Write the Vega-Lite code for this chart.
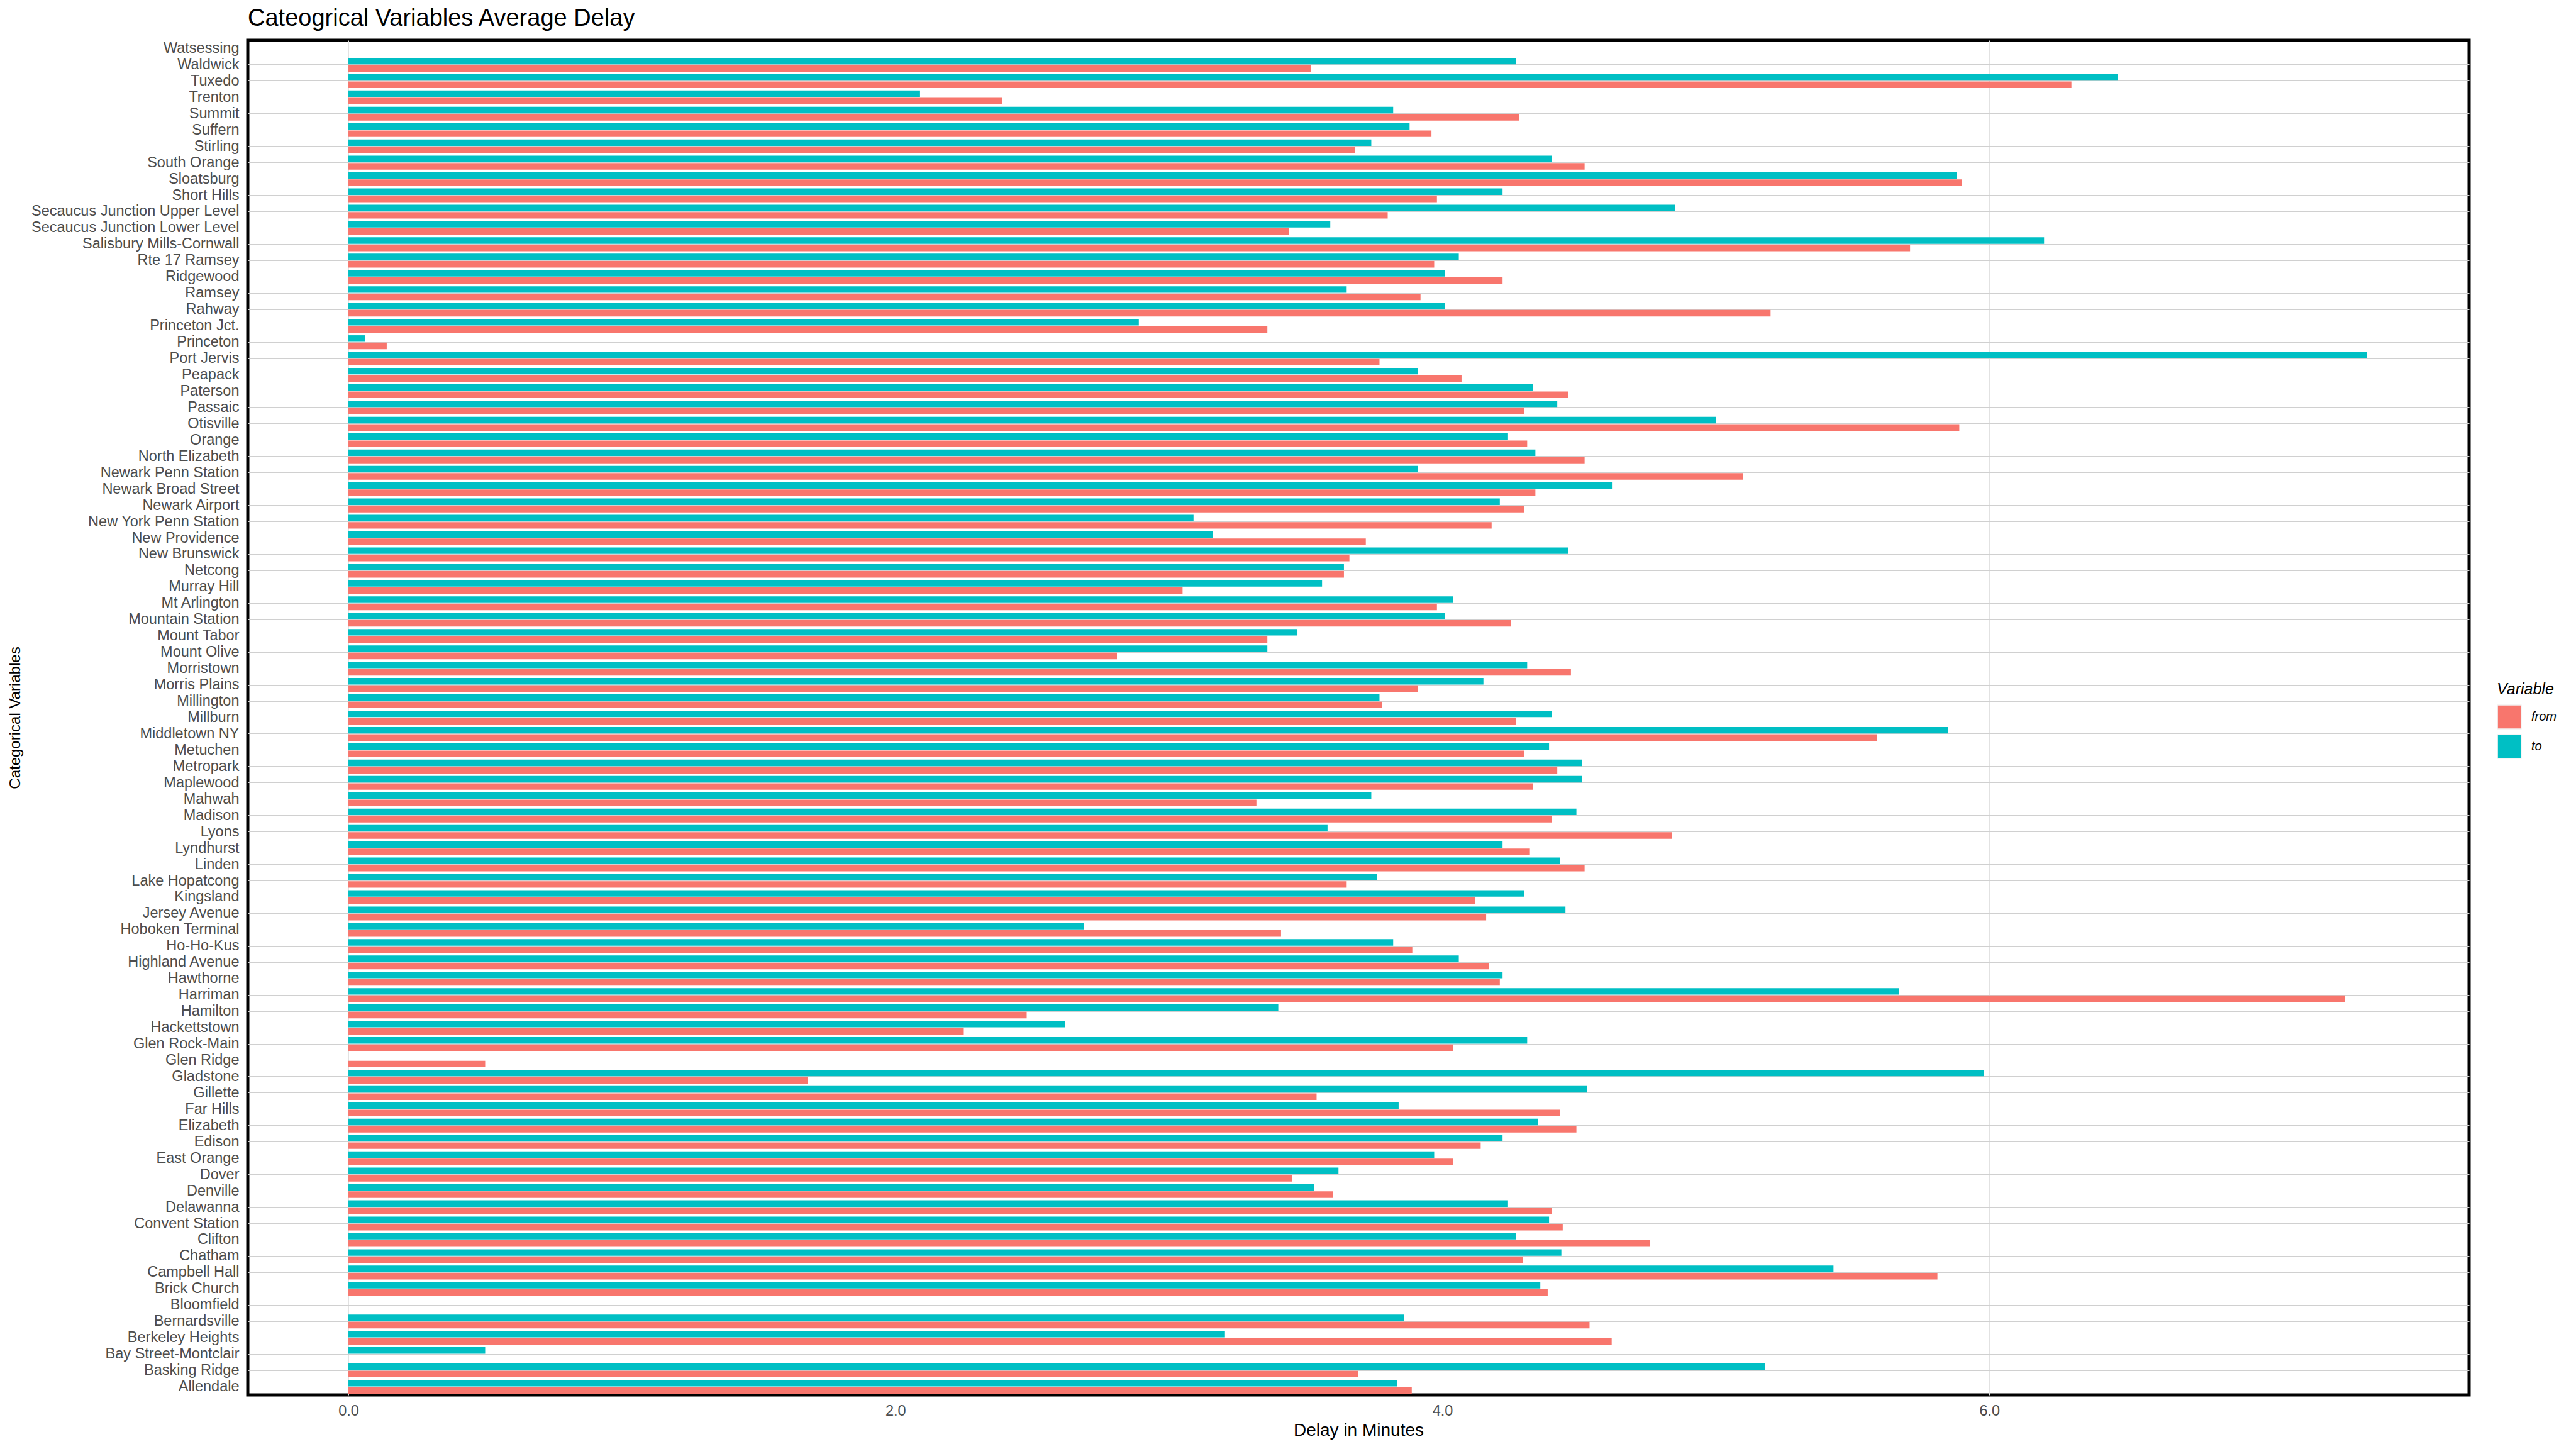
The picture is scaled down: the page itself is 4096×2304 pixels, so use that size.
{
  "$schema": "https://vega.github.io/schema/vega-lite/v6.json",
  "width": 3532,
  "height": 2154,
  "autosize": {"type": "none"},
  "padding": {"left": 394, "top": 64, "right": 170, "bottom": 86},
  "background": "white",
  "title": {"text": "Cateogrical Variables Average Delay", "anchor": "start", "frame": "group", "font": "Liberation Sans", "fontSize": 38, "fontWeight": "normal", "color": "black", "baseline": "top", "offset": 15},
  "config": {
    "view": {"stroke": "black", "strokeWidth": 5},
    "font": "Liberation Sans"
  },
  "data": {"values": [
    {"station": "Waldwick", "variable": "to", "delay": 4.27}, {"station": "Waldwick", "variable": "from", "delay": 3.52},
    {"station": "Tuxedo", "variable": "to", "delay": 6.47}, {"station": "Tuxedo", "variable": "from", "delay": 6.30},
    {"station": "Trenton", "variable": "to", "delay": 2.09}, {"station": "Trenton", "variable": "from", "delay": 2.39},
    {"station": "Summit", "variable": "to", "delay": 3.82}, {"station": "Summit", "variable": "from", "delay": 4.28},
    {"station": "Suffern", "variable": "to", "delay": 3.88}, {"station": "Suffern", "variable": "from", "delay": 3.96},
    {"station": "Stirling", "variable": "to", "delay": 3.74}, {"station": "Stirling", "variable": "from", "delay": 3.68},
    {"station": "South Orange", "variable": "to", "delay": 4.40}, {"station": "South Orange", "variable": "from", "delay": 4.52},
    {"station": "Sloatsburg", "variable": "to", "delay": 5.88}, {"station": "Sloatsburg", "variable": "from", "delay": 5.90},
    {"station": "Short Hills", "variable": "to", "delay": 4.22}, {"station": "Short Hills", "variable": "from", "delay": 3.98},
    {"station": "Secaucus Junction Upper Level", "variable": "to", "delay": 4.85}, {"station": "Secaucus Junction Upper Level", "variable": "from", "delay": 3.80},
    {"station": "Secaucus Junction Lower Level", "variable": "to", "delay": 3.59}, {"station": "Secaucus Junction Lower Level", "variable": "from", "delay": 3.44},
    {"station": "Salisbury Mills-Cornwall", "variable": "to", "delay": 6.20}, {"station": "Salisbury Mills-Cornwall", "variable": "from", "delay": 5.71},
    {"station": "Rte 17 Ramsey", "variable": "to", "delay": 4.06}, {"station": "Rte 17 Ramsey", "variable": "from", "delay": 3.97},
    {"station": "Ridgewood", "variable": "to", "delay": 4.01}, {"station": "Ridgewood", "variable": "from", "delay": 4.22},
    {"station": "Ramsey", "variable": "to", "delay": 3.65}, {"station": "Ramsey", "variable": "from", "delay": 3.92},
    {"station": "Rahway", "variable": "to", "delay": 4.01}, {"station": "Rahway", "variable": "from", "delay": 5.20},
    {"station": "Princeton Jct.", "variable": "to", "delay": 2.89}, {"station": "Princeton Jct.", "variable": "from", "delay": 3.36},
    {"station": "Princeton", "variable": "to", "delay": 0.06}, {"station": "Princeton", "variable": "from", "delay": 0.14},
    {"station": "Port Jervis", "variable": "to", "delay": 7.38}, {"station": "Port Jervis", "variable": "from", "delay": 3.77},
    {"station": "Peapack", "variable": "to", "delay": 3.91}, {"station": "Peapack", "variable": "from", "delay": 4.07},
    {"station": "Paterson", "variable": "to", "delay": 4.33}, {"station": "Paterson", "variable": "from", "delay": 4.46},
    {"station": "Passaic", "variable": "to", "delay": 4.42}, {"station": "Passaic", "variable": "from", "delay": 4.30},
    {"station": "Otisville", "variable": "to", "delay": 5.00}, {"station": "Otisville", "variable": "from", "delay": 5.89},
    {"station": "Orange", "variable": "to", "delay": 4.24}, {"station": "Orange", "variable": "from", "delay": 4.31},
    {"station": "North Elizabeth", "variable": "to", "delay": 4.34}, {"station": "North Elizabeth", "variable": "from", "delay": 4.52},
    {"station": "Newark Penn Station", "variable": "to", "delay": 3.91}, {"station": "Newark Penn Station", "variable": "from", "delay": 5.10},
    {"station": "Newark Broad Street", "variable": "to", "delay": 4.62}, {"station": "Newark Broad Street", "variable": "from", "delay": 4.34},
    {"station": "Newark Airport", "variable": "to", "delay": 4.21}, {"station": "Newark Airport", "variable": "from", "delay": 4.30},
    {"station": "New York Penn Station", "variable": "to", "delay": 3.09}, {"station": "New York Penn Station", "variable": "from", "delay": 4.18},
    {"station": "New Providence", "variable": "to", "delay": 3.16}, {"station": "New Providence", "variable": "from", "delay": 3.72},
    {"station": "New Brunswick", "variable": "to", "delay": 4.46}, {"station": "New Brunswick", "variable": "from", "delay": 3.66},
    {"station": "Netcong", "variable": "to", "delay": 3.64}, {"station": "Netcong", "variable": "from", "delay": 3.64},
    {"station": "Murray Hill", "variable": "to", "delay": 3.56}, {"station": "Murray Hill", "variable": "from", "delay": 3.05},
    {"station": "Mt Arlington", "variable": "to", "delay": 4.04}, {"station": "Mt Arlington", "variable": "from", "delay": 3.98},
    {"station": "Mountain Station", "variable": "to", "delay": 4.01}, {"station": "Mountain Station", "variable": "from", "delay": 4.25},
    {"station": "Mount Tabor", "variable": "to", "delay": 3.47}, {"station": "Mount Tabor", "variable": "from", "delay": 3.36},
    {"station": "Mount Olive", "variable": "to", "delay": 3.36}, {"station": "Mount Olive", "variable": "from", "delay": 2.81},
    {"station": "Morristown", "variable": "to", "delay": 4.31}, {"station": "Morristown", "variable": "from", "delay": 4.47},
    {"station": "Morris Plains", "variable": "to", "delay": 4.15}, {"station": "Morris Plains", "variable": "from", "delay": 3.91},
    {"station": "Millington", "variable": "to", "delay": 3.77}, {"station": "Millington", "variable": "from", "delay": 3.78},
    {"station": "Millburn", "variable": "to", "delay": 4.40}, {"station": "Millburn", "variable": "from", "delay": 4.27},
    {"station": "Middletown NY", "variable": "to", "delay": 5.85}, {"station": "Middletown NY", "variable": "from", "delay": 5.59},
    {"station": "Metuchen", "variable": "to", "delay": 4.39}, {"station": "Metuchen", "variable": "from", "delay": 4.30},
    {"station": "Metropark", "variable": "to", "delay": 4.51}, {"station": "Metropark", "variable": "from", "delay": 4.42},
    {"station": "Maplewood", "variable": "to", "delay": 4.51}, {"station": "Maplewood", "variable": "from", "delay": 4.33},
    {"station": "Mahwah", "variable": "to", "delay": 3.74}, {"station": "Mahwah", "variable": "from", "delay": 3.32},
    {"station": "Madison", "variable": "to", "delay": 4.49}, {"station": "Madison", "variable": "from", "delay": 4.40},
    {"station": "Lyons", "variable": "to", "delay": 3.58}, {"station": "Lyons", "variable": "from", "delay": 4.84},
    {"station": "Lyndhurst", "variable": "to", "delay": 4.22}, {"station": "Lyndhurst", "variable": "from", "delay": 4.32},
    {"station": "Linden", "variable": "to", "delay": 4.43}, {"station": "Linden", "variable": "from", "delay": 4.52},
    {"station": "Lake Hopatcong", "variable": "to", "delay": 3.76}, {"station": "Lake Hopatcong", "variable": "from", "delay": 3.65},
    {"station": "Kingsland", "variable": "to", "delay": 4.30}, {"station": "Kingsland", "variable": "from", "delay": 4.12},
    {"station": "Jersey Avenue", "variable": "to", "delay": 4.45}, {"station": "Jersey Avenue", "variable": "from", "delay": 4.16},
    {"station": "Hoboken Terminal", "variable": "to", "delay": 2.69}, {"station": "Hoboken Terminal", "variable": "from", "delay": 3.41},
    {"station": "Ho-Ho-Kus", "variable": "to", "delay": 3.82}, {"station": "Ho-Ho-Kus", "variable": "from", "delay": 3.89},
    {"station": "Highland Avenue", "variable": "to", "delay": 4.06}, {"station": "Highland Avenue", "variable": "from", "delay": 4.17},
    {"station": "Hawthorne", "variable": "to", "delay": 4.22}, {"station": "Hawthorne", "variable": "from", "delay": 4.21},
    {"station": "Harriman", "variable": "to", "delay": 5.67}, {"station": "Harriman", "variable": "from", "delay": 7.30},
    {"station": "Hamilton", "variable": "to", "delay": 3.40}, {"station": "Hamilton", "variable": "from", "delay": 2.48},
    {"station": "Hackettstown", "variable": "to", "delay": 2.62}, {"station": "Hackettstown", "variable": "from", "delay": 2.25},
    {"station": "Glen Rock-Main", "variable": "to", "delay": 4.31}, {"station": "Glen Rock-Main", "variable": "from", "delay": 4.04},
    {"station": "Glen Ridge", "variable": "from", "delay": 0.50},
    {"station": "Gladstone", "variable": "to", "delay": 5.98}, {"station": "Gladstone", "variable": "from", "delay": 1.68},
    {"station": "Gillette", "variable": "to", "delay": 4.53}, {"station": "Gillette", "variable": "from", "delay": 3.54},
    {"station": "Far Hills", "variable": "to", "delay": 3.84}, {"station": "Far Hills", "variable": "from", "delay": 4.43},
    {"station": "Elizabeth", "variable": "to", "delay": 4.35}, {"station": "Elizabeth", "variable": "from", "delay": 4.49},
    {"station": "Edison", "variable": "to", "delay": 4.22}, {"station": "Edison", "variable": "from", "delay": 4.14},
    {"station": "East Orange", "variable": "to", "delay": 3.97}, {"station": "East Orange", "variable": "from", "delay": 4.04},
    {"station": "Dover", "variable": "to", "delay": 3.62}, {"station": "Dover", "variable": "from", "delay": 3.45},
    {"station": "Denville", "variable": "to", "delay": 3.53}, {"station": "Denville", "variable": "from", "delay": 3.60},
    {"station": "Delawanna", "variable": "to", "delay": 4.24}, {"station": "Delawanna", "variable": "from", "delay": 4.40},
    {"station": "Convent Station", "variable": "to", "delay": 4.39}, {"station": "Convent Station", "variable": "from", "delay": 4.44},
    {"station": "Clifton", "variable": "to", "delay": 4.27}, {"station": "Clifton", "variable": "from", "delay": 4.76},
    {"station": "Chatham", "variable": "to", "delay": 4.435}, {"station": "Chatham", "variable": "from", "delay": 4.294},
    {"station": "Campbell Hall", "variable": "to", "delay": 5.43}, {"station": "Campbell Hall", "variable": "from", "delay": 5.81},
    {"station": "Brick Church", "variable": "to", "delay": 4.358}, {"station": "Brick Church", "variable": "from", "delay": 4.385},
    {"station": "Bernardsville", "variable": "to", "delay": 3.86}, {"station": "Bernardsville", "variable": "from", "delay": 4.538},
    {"station": "Berkeley Heights", "variable": "to", "delay": 3.205}, {"station": "Berkeley Heights", "variable": "from", "delay": 4.619},
    {"station": "Bay Street-Montclair", "variable": "to", "delay": 0.50},
    {"station": "Basking Ridge", "variable": "to", "delay": 5.18}, {"station": "Basking Ridge", "variable": "from", "delay": 3.692},
    {"station": "Allendale", "variable": "to", "delay": 3.834}, {"station": "Allendale", "variable": "from", "delay": 3.888}
  ]},
  "mark": {"type": "bar"},
  "encoding": {
    "y": {
      "field": "station", "type": "nominal", "title": "Categorical Variables",
      "scale": {"domain": ["Watsessing", "Waldwick", "Tuxedo", "Trenton", "Summit", "Suffern", "Stirling", "South Orange", "Sloatsburg", "Short Hills", "Secaucus Junction Upper Level", "Secaucus Junction Lower Level", "Salisbury Mills-Cornwall", "Rte 17 Ramsey", "Ridgewood", "Ramsey", "Rahway", "Princeton Jct.", "Princeton", "Port Jervis", "Peapack", "Paterson", "Passaic", "Otisville", "Orange", "North Elizabeth", "Newark Penn Station", "Newark Broad Street", "Newark Airport", "New York Penn Station", "New Providence", "New Brunswick", "Netcong", "Murray Hill", "Mt Arlington", "Mountain Station", "Mount Tabor", "Mount Olive", "Morristown", "Morris Plains", "Millington", "Millburn", "Middletown NY", "Metuchen", "Metropark", "Maplewood", "Mahwah", "Madison", "Lyons", "Lyndhurst", "Linden", "Lake Hopatcong", "Kingsland", "Jersey Avenue", "Hoboken Terminal", "Ho-Ho-Kus", "Highland Avenue", "Hawthorne", "Harriman", "Hamilton", "Hackettstown", "Glen Rock-Main", "Glen Ridge", "Gladstone", "Gillette", "Far Hills", "Elizabeth", "Edison", "East Orange", "Dover", "Denville", "Delawanna", "Convent Station", "Clifton", "Chatham", "Campbell Hall", "Brick Church", "Bloomfield", "Bernardsville", "Berkeley Heights", "Bay Street-Montclair", "Basking Ridge", "Allendale"], "paddingInner": 0, "paddingOuter": 0},
      "axis": {"labelFont": "Liberation Sans", "labelFontSize": 23.5, "labelColor": "#4D4D4D", "labelPadding": 14, "ticks": false, "domain": false, "grid": true, "gridColor": "#D0D0D0", "gridWidth": 1, "bandPosition": 0.5, "labelOverlap": false, "labelLimit": 0, "titleFont": "Liberation Sans", "titleFontSize": 24, "titleColor": "black", "titleFontWeight": "normal", "titleX": -370, "titleY": 1077, "titleAngle": -90, "titleBaseline": "middle", "titleAlign": "center"}
    },
    "yOffset": {"field": "variable", "type": "nominal", "scale": {"domain": ["to", "from"], "paddingInner": 0.111, "paddingOuter": 0.1667}},
    "x": {
      "field": "delay", "type": "quantitative", "title": "Delay in Minutes",
      "scale": {"domain": [-0.368, 7.754], "nice": false},
      "axis": {"values": [0, 2, 4, 6], "format": ".1f", "labelFont": "Liberation Sans", "labelFontSize": 23.5, "labelColor": "#4D4D4D", "labelPadding": 13, "ticks": false, "domain": false, "grid": true, "gridColor": "#E2E2E2", "gridWidth": 1, "labelFlush": false, "titleFont": "Liberation Sans", "titleFontSize": 28, "titleColor": "black", "titleFontWeight": "normal", "titleX": 1766, "titleY": 64, "titleBaseline": "alphabetic", "titleAlign": "center"}
    },
    "x2": {"datum": 0},
    "color": {
      "field": "variable", "type": "nominal", "title": "Variable",
      "scale": {"domain": ["from", "to"], "range": ["#F8766D", "#00BFC4"]},
      "legend": {"orient": "none", "legendX": 3576, "legendY": 1020, "titleFont": "Liberation Sans", "titleFontSize": 25, "titleFontStyle": "italic", "titleFontWeight": "normal", "titleColor": "black", "titlePadding": 11, "labelFont": "Liberation Sans", "labelFontSize": 20, "labelFontStyle": "italic", "labelColor": "black", "labelOffset": 15, "symbolType": "square", "symbolSize": 1429, "symbolStrokeColor": "#F2F2F2", "symbolStrokeWidth": 1.5, "symbolOpacity": 1, "rowPadding": 3}
    }
  }
}
